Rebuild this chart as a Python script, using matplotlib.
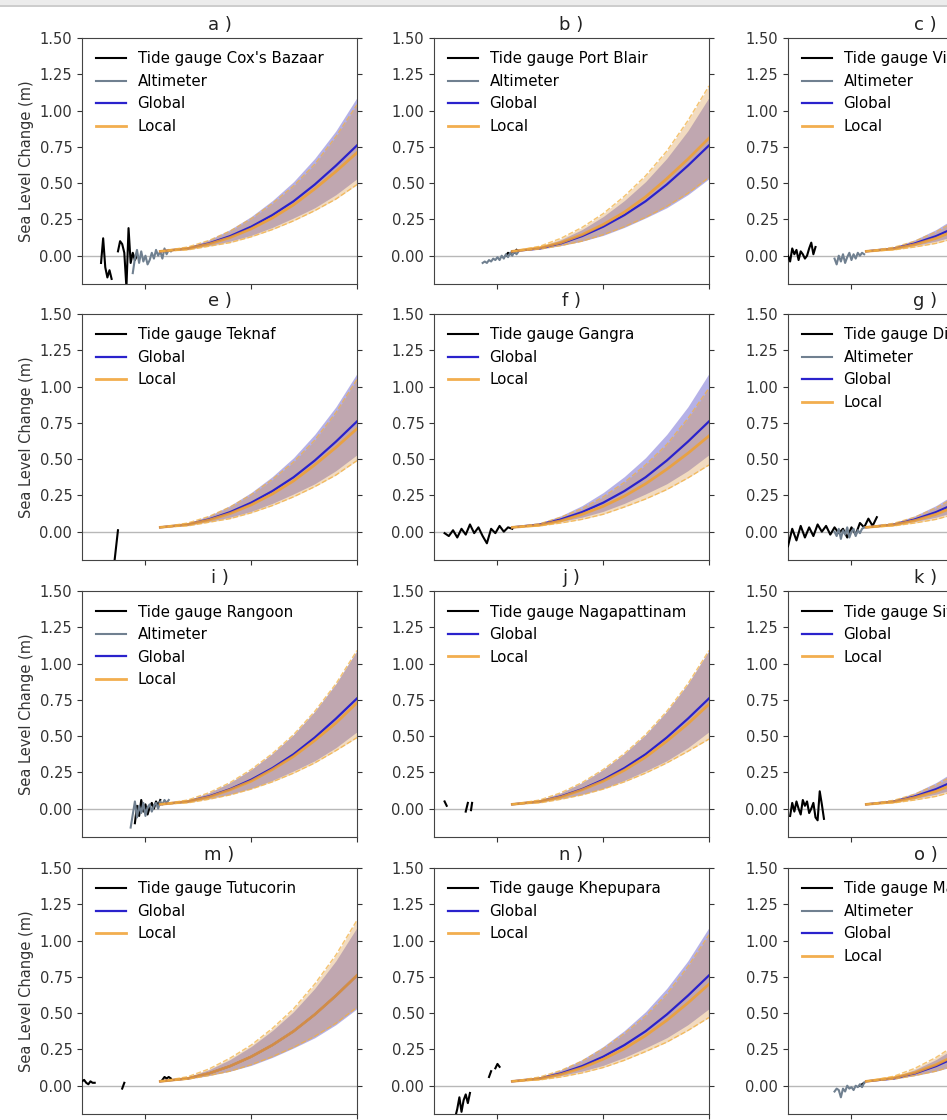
import numpy as np
import matplotlib.pyplot as plt
from matplotlib.patches import Rectangle

nan = np.nan

# Projection years (shared)
proj_years = [2007, 2020, 2030, 2040, 2050, 2060, 2070, 2080, 2090, 2100]

# Global projection: lower, median, upper (m)
global_lo = [0.03, 0.045, 0.07, 0.10, 0.14, 0.195, 0.26, 0.33, 0.42, 0.53]
global_mid = [0.03, 0.05, 0.085, 0.135, 0.20, 0.28, 0.375, 0.49, 0.62, 0.76]
global_hi = [0.03, 0.06, 0.11, 0.18, 0.27, 0.38, 0.51, 0.67, 0.86, 1.09]

# Local projections per panel: (lower, median, upper)
local_a = ([0.03, 0.04, 0.065, 0.09, 0.13, 0.18, 0.24, 0.31, 0.39, 0.49],
           [0.03, 0.05, 0.08, 0.125, 0.185, 0.26, 0.35, 0.46, 0.58, 0.71],
           [0.03, 0.06, 0.105, 0.17, 0.255, 0.36, 0.48, 0.63, 0.82, 1.04])
local_b = ([0.03, 0.045, 0.07, 0.10, 0.145, 0.20, 0.265, 0.34, 0.43, 0.54],
           [0.03, 0.055, 0.09, 0.145, 0.215, 0.30, 0.405, 0.53, 0.665, 0.81],
           [0.03, 0.065, 0.12, 0.195, 0.29, 0.41, 0.55, 0.72, 0.93, 1.17])
local_c = ([0.03, 0.04, 0.06, 0.085, 0.125, 0.175, 0.23, 0.30, 0.38, 0.47],
           [0.03, 0.047, 0.077, 0.12, 0.18, 0.25, 0.34, 0.44, 0.56, 0.69],
           [0.03, 0.058, 0.10, 0.165, 0.245, 0.35, 0.47, 0.61, 0.79, 1.00])
local_e = ([0.03, 0.04, 0.065, 0.09, 0.13, 0.18, 0.24, 0.31, 0.39, 0.49],
           [0.03, 0.05, 0.08, 0.125, 0.185, 0.26, 0.35, 0.46, 0.58, 0.71],
           [0.03, 0.06, 0.105, 0.17, 0.255, 0.36, 0.48, 0.63, 0.82, 1.05])
local_f = ([0.03, 0.04, 0.06, 0.085, 0.12, 0.17, 0.225, 0.29, 0.37, 0.46],
           [0.03, 0.045, 0.075, 0.12, 0.175, 0.245, 0.33, 0.43, 0.54, 0.66],
           [0.03, 0.055, 0.10, 0.16, 0.24, 0.34, 0.46, 0.60, 0.78, 0.99])
local_g = ([0.03, 0.04, 0.06, 0.085, 0.125, 0.175, 0.23, 0.30, 0.38, 0.47],
           [0.03, 0.047, 0.077, 0.12, 0.18, 0.25, 0.34, 0.44, 0.56, 0.69],
           [0.03, 0.058, 0.10, 0.165, 0.245, 0.35, 0.47, 0.61, 0.79, 1.00])
local_i = ([0.03, 0.04, 0.065, 0.095, 0.135, 0.185, 0.245, 0.315, 0.40, 0.49],
           [0.03, 0.05, 0.08, 0.13, 0.19, 0.27, 0.36, 0.47, 0.59, 0.73],
           [0.03, 0.06, 0.11, 0.18, 0.27, 0.38, 0.51, 0.67, 0.86, 1.09])
local_j = ([0.03, 0.04, 0.065, 0.095, 0.135, 0.185, 0.245, 0.315, 0.395, 0.48],
           [0.03, 0.05, 0.08, 0.13, 0.19, 0.265, 0.355, 0.465, 0.585, 0.72],
           [0.03, 0.06, 0.11, 0.18, 0.27, 0.38, 0.51, 0.67, 0.86, 1.09])
local_k = ([0.03, 0.04, 0.06, 0.085, 0.125, 0.175, 0.23, 0.30, 0.38, 0.47],
           [0.03, 0.047, 0.077, 0.12, 0.18, 0.25, 0.34, 0.44, 0.56, 0.69],
           [0.03, 0.058, 0.10, 0.165, 0.245, 0.35, 0.47, 0.61, 0.79, 1.00])
local_m = ([0.03, 0.045, 0.07, 0.10, 0.145, 0.20, 0.265, 0.34, 0.43, 0.54],
           [0.03, 0.05, 0.085, 0.135, 0.20, 0.28, 0.375, 0.49, 0.62, 0.76],
           [0.03, 0.062, 0.115, 0.19, 0.28, 0.395, 0.53, 0.70, 0.90, 1.14])
local_n = ([0.03, 0.04, 0.06, 0.088, 0.125, 0.175, 0.235, 0.30, 0.38, 0.47],
           [0.03, 0.048, 0.078, 0.123, 0.183, 0.255, 0.345, 0.45, 0.57, 0.70],
           [0.03, 0.06, 0.105, 0.17, 0.255, 0.36, 0.48, 0.63, 0.82, 1.04])
local_o = ([0.03, 0.045, 0.07, 0.10, 0.145, 0.20, 0.265, 0.34, 0.43, 0.54],
           [0.03, 0.055, 0.09, 0.145, 0.215, 0.30, 0.405, 0.53, 0.665, 0.81],
           [0.03, 0.065, 0.12, 0.195, 0.29, 0.41, 0.55, 0.72, 0.93, 1.17])

# Tide gauge records (year, m); nan = gap
tide_a_yr = [1979, 1980, 1981, 1982, 1983, 1984, 1985, 1987, 1988, 1989, 1990, 1991, 1992, 1993, 1994, 1995, 1996]
tide_a = [-0.05, 0.12, -0.08, -0.15, -0.10, -0.16, nan, 0.03, 0.10, 0.08, 0.02, -0.22, 0.19, -0.05, 0.02, -0.03, 0.00]
tide_b_yr = [2004, 2005, 2006, 2007, 2008, 2009]
tide_b = [0.00, 0.02, 0.01, 0.03, 0.02, 0.04]
tide_c_yr = [1970, 1971, 1972, 1973, 1974, 1975, 1976, 1977, 1978, 1979, 1980, 1981, 1982, 1983]
tide_c = [0.00, -0.04, 0.05, 0.01, 0.04, -0.03, 0.03, 0.01, -0.02, 0.00, 0.05, 0.09, 0.01, 0.06]
tide_e_yr = [1985, 1987]
tide_e = [-0.25, 0.01]
tide_f_yr = [1975, 1977, 1979, 1981, 1983, 1985, 1987, 1989, 1991, 1993, 1995, 1997, 1999, 2001, 2003, 2005, 2007]
tide_f = [-0.01, -0.03, 0.01, -0.04, 0.02, -0.02, 0.05, -0.01, 0.03, -0.03, -0.08, 0.02, -0.01, 0.04, 0.00, 0.03, 0.02]
tide_g_yr = [1970, 1972, 1974, 1976, 1978, 1980, 1982, 1984, 1986, 1988, 1990, 1992, 1994, 1996, 1998, 2000, 2002, 2004, 2006, 2008, 2010, 2012]
tide_g = [-0.10, 0.02, -0.06, 0.04, -0.04, 0.03, -0.03, 0.05, 0.00, 0.04, -0.02, 0.03, -0.01, 0.02, -0.04, 0.03, -0.02, 0.06, 0.03, 0.09, 0.04, 0.10]
tide_i_yr = [1995, 1996, 1997, 1998, 1999, 2000, 2001, 2002, 2003, 2004, 2005, 2006, 2007]
tide_i = [-0.10, 0.02, -0.05, 0.06, -0.02, 0.03, -0.04, 0.01, 0.04, 0.00, 0.05, 0.02, 0.06]
tide_j_yr = [1975, 1976, 1977, 1985, 1986, 1987, 1987.5, 1988]
tide_j = [0.05, 0.02, nan, -0.02, 0.04, nan, -0.01, 0.04]
tide_k_yr = [1971, 1972, 1973, 1974, 1975, 1976, 1977, 1978, 1979, 1980, 1981, 1982, 1983, 1984, 1985, 1986, 1987]
tide_k = [-0.05, 0.04, -0.02, 0.05, 0.00, -0.04, 0.06, 0.02, 0.05, -0.03, 0.00, 0.04, -0.06, -0.08, 0.12, 0.03, -0.07]
tide_m_yr = [1970, 1971, 1972, 1973, 1974, 1975, 1976, 1977, 1989, 1989.5, 1990, 2007, 2008, 2009, 2010, 2011, 2012]
tide_m = [0.03, 0.04, 0.02, 0.01, 0.03, 0.02, 0.02, nan, -0.02, 0.00, 0.02, nan, 0.04, 0.06, 0.05, 0.06, 0.05]
tide_n_yr = [1980, 1981, 1982, 1983, 1984, 1985, 1986, 1987, 1990, 1996, 1997, 1998, 1999, 2000, 2001]
tide_n = [-0.22, -0.16, -0.08, -0.18, -0.10, -0.06, -0.12, -0.05, nan, 0.06, 0.10, nan, 0.12, 0.15, 0.13]
tide_o_yr = [2004, 2005, 2006]
tide_o = [0.00, 0.01, 0.02]

# Altimeter records (year, m)
alt_a_yr = [1994, 1995, 1996, 1997, 1998, 1999, 2000, 2001, 2002, 2003, 2004, 2005, 2006, 2007, 2008, 2009, 2010, 2011, 2012]
alt_a = [-0.12, -0.02, 0.04, -0.05, 0.03, -0.04, 0.00, -0.06, -0.03, 0.02, -0.02, 0.04, 0.00, 0.03, -0.02, 0.05, 0.01, 0.04, 0.03]
alt_b_yr = [1993, 1994, 1995, 1996, 1997, 1998, 1999, 2000, 2001, 2002, 2003, 2004, 2005, 2006, 2007, 2008, 2009, 2010]
alt_b = [-0.05, -0.04, -0.05, -0.03, -0.04, -0.02, -0.03, -0.01, -0.03, 0.00, -0.02, 0.01, -0.01, 0.02, 0.00, 0.03, 0.01, 0.03]
alt_c_yr = [1992, 1993, 1994, 1995, 1996, 1997, 1998, 1999, 2000, 2001, 2002, 2003, 2004, 2005, 2006]
alt_c = [-0.02, -0.06, 0.00, -0.04, 0.01, -0.05, -0.01, 0.02, -0.03, 0.01, -0.02, 0.02, 0.00, 0.02, 0.01]
alt_g_yr = [1992, 1993, 1994, 1995, 1996, 1997, 1998, 1999, 2000, 2001, 2002, 2003, 2004, 2005, 2006]
alt_g = [0.00, -0.03, 0.02, -0.05, 0.01, -0.02, 0.03, -0.04, 0.00, 0.02, -0.03, 0.01, -0.01, 0.02, 0.03]
alt_i_yr = [1993, 1994, 1995, 1996, 1997, 1998, 1999, 2000, 2001, 2002, 2003, 2004, 2005, 2006, 2007, 2008, 2009, 2010, 2011]
alt_i = [-0.13, -0.04, 0.05, -0.06, 0.02, -0.03, 0.04, -0.05, 0.01, 0.03, -0.02, 0.02, 0.04, 0.00, 0.05, 0.03, 0.06, 0.04, 0.06]
alt_o_yr = [1992, 1993, 1994, 1995, 1996, 1997, 1998, 1999, 2000, 2001, 2002, 2003, 2004, 2005, 2006]
alt_o = [-0.04, -0.02, -0.03, -0.08, -0.02, -0.04, 0.00, -0.02, -0.01, -0.03, 0.00, -0.01, 0.01, -0.01, 0.02]

panel_titles = ['a )', 'b )', 'c )', 'e )', 'f )', 'g )', 'i )', 'j )', 'k )', 'm )', 'n )', 'o )']
station_names = ["Cox's Bazaar", 'Port Blair', 'Visakhapatnam', 'Teknaf', 'Gangra', 'Diamond Harbour',
                 'Rangoon', 'Nagapattinam', 'Sittwe', 'Tutucorin', 'Khepupara', 'Madras']
tide_years = [tide_a_yr, tide_b_yr, tide_c_yr, tide_e_yr, tide_f_yr, tide_g_yr,
              tide_i_yr, tide_j_yr, tide_k_yr, tide_m_yr, tide_n_yr, tide_o_yr]
tide_vals = [tide_a, tide_b, tide_c, tide_e, tide_f, tide_g,
             tide_i, tide_j, tide_k, tide_m, tide_n, tide_o]
alt_years = [alt_a_yr, alt_b_yr, alt_c_yr, None, None, alt_g_yr,
             alt_i_yr, None, None, None, None, alt_o_yr]
alt_vals = [alt_a, alt_b, alt_c, None, None, alt_g,
            alt_i, None, None, None, None, alt_o]
locals_ = [local_a, local_b, local_c, local_e, local_f, local_g,
           local_i, local_j, local_k, local_m, local_n, local_o]

W, H = 947, 1120
fig = plt.figure(figsize=(W / 100, H / 100), dpi=100)

# window border strip at top
fig.patches.append(Rectangle((0, 1 - 5 / H), 1, 5 / H, transform=fig.transFigure,
                             facecolor='#ececec', edgecolor='none', zorder=0))
fig.add_artist(plt.Line2D([0, 1], [1 - 5.5 / H, 1 - 5.5 / H], color='#c4c4c4', lw=1.2))

col_left = [82, 434, 788]
row_top = [38, 314, 591, 868]
ax_w, ax_h = 275, 246

for k in range(12):
    r, c = divmod(k, 3)
    left = col_left[c] / W
    bottom = 1 - (row_top[r] + ax_h) / H
    ax = fig.add_axes([left, bottom, ax_w / W, ax_h / H])

    ax.axhline(0, color='#b8b8b8', lw=1.0, zorder=1)

    ax.plot(tide_years[k], tide_vals[k], color='black', lw=1.5,
            label='Tide gauge ' + station_names[k], zorder=3)
    if alt_years[k] is not None:
        ax.plot(alt_years[k], alt_vals[k], color='slategray', lw=1.5,
                label='Altimeter', zorder=3)

    lo, mid, hi = locals_[k]
    ax.fill_between(proj_years, global_lo, global_hi, color='#5046c8', alpha=0.42,
                    lw=0, zorder=2)
    ax.fill_between(proj_years, lo, hi, color='#d89440', alpha=0.33, lw=0, zorder=2)
    ax.plot(proj_years, global_mid, color='#2a22cc', lw=1.6, label='Global', zorder=4)
    ax.plot(proj_years, mid, color='#f0a030', lw=2.0, alpha=0.85, label='Local', zorder=4)
    ax.plot(proj_years, lo, color='#f2b040', lw=1.0, ls='--', alpha=0.75, zorder=4)
    ax.plot(proj_years, hi, color='#f2b040', lw=1.0, ls='--', alpha=0.75, zorder=4)

    ax.set_xlim(1970, 2100)
    ax.set_ylim(-0.195, 1.5)
    ax.set_xticks([2000, 2050, 2100])
    ax.set_xticklabels([])
    ax.set_yticks([0, 0.25, 0.5, 0.75, 1.0, 1.25, 1.5])
    ax.set_yticklabels(['0.00', '0.25', '0.50', '0.75', '1.00', '1.25', '1.50'])
    ax.tick_params(axis='y', which='both', left=True, right=True, labelsize=10.5,
                   colors='#333333')
    ax.tick_params(axis='x', colors='#333333')
    for s in ax.spines.values():
        s.set_color('#444444')
    ax.set_title(panel_titles[k], fontsize=13, color='#222222')
    if c == 0:
        ax.set_ylabel('Sea Level Change (m)', fontsize=10.5, color='#333333')
    ax.legend(loc='upper left', frameon=False, fontsize=10.8)

plt.savefig('out.png', dpi=100)
